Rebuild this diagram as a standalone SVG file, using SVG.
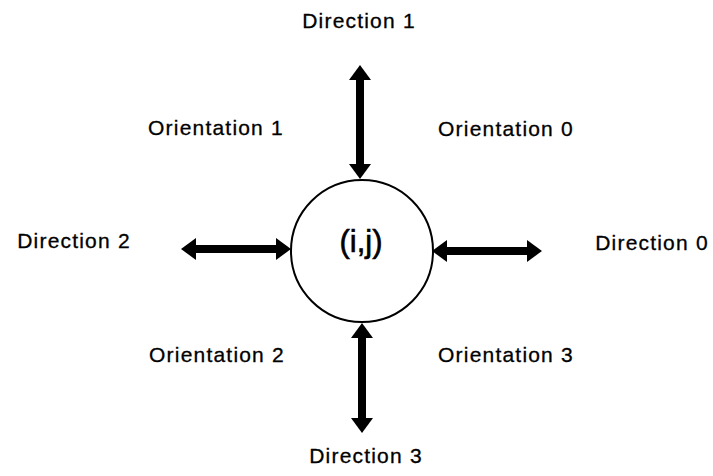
<svg xmlns="http://www.w3.org/2000/svg" width="713" height="476" viewBox="0 0 713 476">
<defs>
<style>
.lbl{font-family:"Liberation Sans",Arial,sans-serif;font-size:21px;fill:#000;stroke:#000;stroke-width:0.3;text-anchor:middle;letter-spacing:1.2px}
.node{font-family:"Liberation Sans",Arial,sans-serif;font-size:31px;fill:#000;stroke:#000;stroke-width:0.6;text-anchor:middle}
.arr{stroke:#000;stroke-width:8;fill:none;marker-start:url(#head);marker-end:url(#head)}
</style>
<marker id="head" markerUnits="userSpaceOnUse" markerWidth="15" markerHeight="22" refX="0" refY="11" orient="auto-start-reverse" viewBox="0 0 15 22">
<path d="M0,0 L15,11 L0,22 z" fill="#000"/>
</marker>
</defs>
<rect width="713" height="476" fill="#fff"/>
<g id="connectors">
<line class="arr" x1="196" y1="249" x2="276" y2="249"/>
<line class="arr" x1="447" y1="251" x2="527" y2="251"/>
<line class="arr" x1="360" y1="80" x2="360" y2="164"/>
<line class="arr" x1="362" y1="338" x2="362" y2="418"/>
</g>
<g id="node-ij">
<circle cx="362" cy="251" r="71" fill="#fff" stroke="#000" stroke-width="2"/>
<text class="node" x="361" y="252">(i,j)</text>
</g>
<g id="labels">
<text class="lbl" x="359" y="28">Direction 1</text>
<text class="lbl" x="216" y="135">Orientation 1</text>
<text class="lbl" x="506" y="136">Orientation 0</text>
<text class="lbl" x="74" y="248">Direction 2</text>
<text class="lbl" x="652" y="250">Direction 0</text>
<text class="lbl" x="217" y="362">Orientation 2</text>
<text class="lbl" x="506" y="362">Orientation 3</text>
<text class="lbl" x="366" y="463">Direction 3</text>
</g>
</svg>
